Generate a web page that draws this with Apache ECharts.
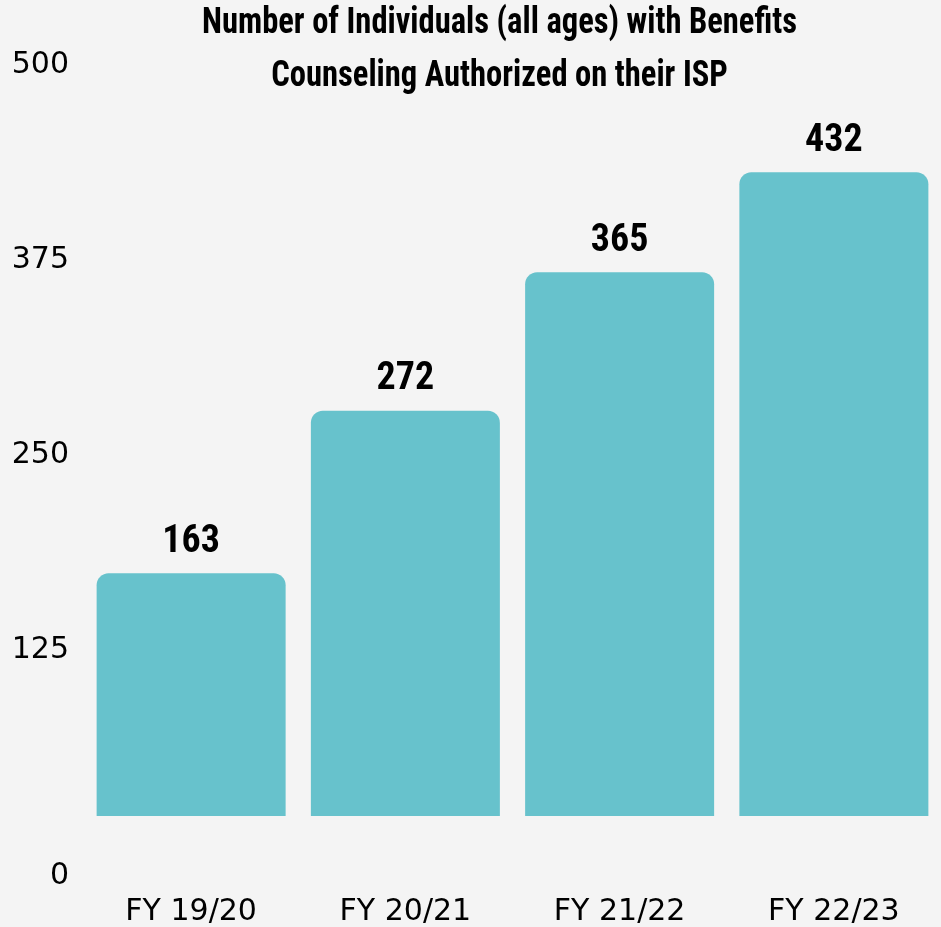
<!DOCTYPE html>
<html>
<head>
<meta charset="utf-8">
<script src="https://cdn.jsdelivr.net/npm/echarts@6/dist/echarts.min.js"></script>
<style>
  html, body { margin: 0; padding: 0; background: #f4f4f4; }
  #chart { width: 941px; height: 927px; }
</style>
</head>
<body>
<div id="chart"></div>
<script>
// Fiscal years and number of individuals with benefits counseling on their ISP
const categories = ['FY 19/20', 'FY 20/21', 'FY 21/22', 'FY 22/23'];
const individuals = [163, 272, 365, 432];
const yTicks = [0, 125, 250, 375, 500];
const titleLines = [
  'Number of Individuals (all ages) with Benefits',
  'Counseling Authorized on their ISP'
];

const narrowFont = "'Roboto Condensed', 'Liberation Sans Narrow', 'DejaVu Sans Condensed', sans-serif";
const plainFont = "'DejaVu Sans', Verdana, sans-serif";
const barColor = '#67c2cc';

const yMin = yTicks[0];
const yMax = yTicks[yTicks.length - 1];
const yStep = yTicks[1] - yTicks[0];

// Title is set in a tall condensed bold face; squeeze it horizontally
// so the first line spans a fixed width.
const titleFont = 'bold 37px ' + narrowFont;
const titleWidth = 595;
const measureCtx = document.createElement('canvas').getContext('2d');
measureCtx.font = titleFont;
const titleScale = titleWidth / measureCtx.measureText(titleLines[0]).width;
const titleCenterX = 499.5;

const chart = echarts.init(document.getElementById('chart'), null, { renderer: 'canvas' });

chart.setOption({
  backgroundColor: '#f4f4f4',
  animation: false,
  graphic: titleLines.map((line, i) => ({
    type: 'text',
    x: titleCenterX,
    y: 24 + i * 53,
    scaleX: titleScale,
    scaleY: 1,
    silent: true,
    style: {
      text: line,
      font: titleFont,
      fill: '#000',
      textAlign: 'center',
      textVerticalAlign: 'middle'
    }
  })),
  grid: [
    // value scale on the left
    { left: 80, top: 65, bottom: 82, width: 1, containLabel: false },
    // the bars
    { left: 84, top: 71, bottom: 111, width: 866, containLabel: false }
  ],
  xAxis: [
    { gridIndex: 0, type: 'value', show: false },
    {
      gridIndex: 1,
      type: 'category',
      data: categories,
      axisLine: { show: false },
      axisTick: { show: false },
      axisLabel: {
        margin: 81,
        fontFamily: plainFont,
        fontSize: 30,
        color: '#000'
      }
    }
  ],
  yAxis: [
    {
      gridIndex: 0,
      type: 'value',
      min: yMin,
      max: yMax,
      interval: yStep,
      axisLine: { show: false },
      axisTick: { show: false },
      splitLine: { show: false },
      axisLabel: {
        margin: 11,
        fontFamily: plainFont,
        fontSize: 30,
        color: '#000',
        formatter: v => (v === yMin ? '{low|' + v + '}' : String(v)),
        rich: {
          low: {
            fontFamily: plainFont,
            fontSize: 30,
            color: '#000',
            padding: [62, 0, 0, 0]
          }
        }
      }
    },
    {
      gridIndex: 1,
      type: 'value',
      min: yMin,
      max: yMax,
      show: false
    }
  ],
  series: [
    {
      type: 'bar',
      xAxisIndex: 1,
      yAxisIndex: 1,
      data: individuals,
      barWidth: 189,
      itemStyle: {
        color: barColor,
        borderRadius: [12, 12, 0, 0]
      },
      label: {
        show: true,
        position: 'top',
        distance: 12,
        fontFamily: narrowFont,
        fontWeight: 'bold',
        fontSize: 38,
        color: '#000'
      }
    }
  ]
});
</script>
</body>
</html>
